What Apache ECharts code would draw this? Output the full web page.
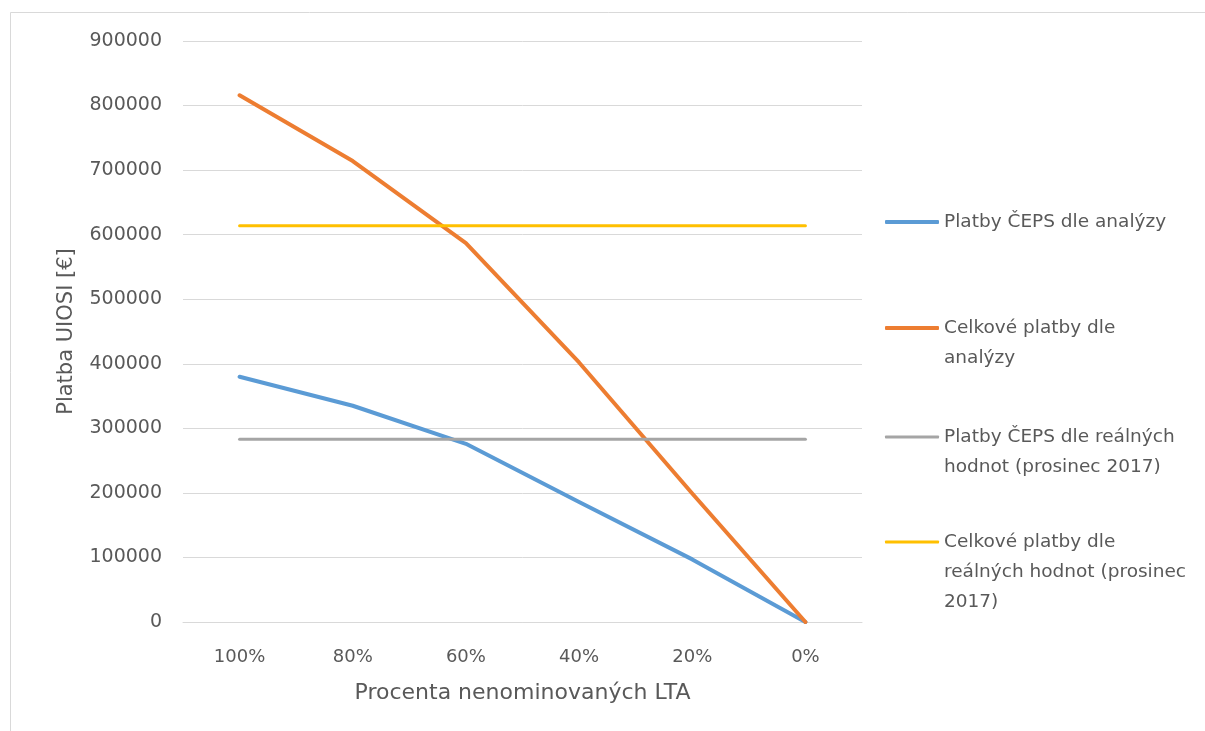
<!DOCTYPE html>
<html>
<head>
<meta charset="utf-8">
<script src="https://cdn.jsdelivr.net/npm/echarts@6/dist/echarts.min.js"></script>
<style>html,body{margin:0;padding:0;background:#fff}#c{width:1205px;height:731px}</style>
</head>
<body>
<div id="c"></div>
<script>
const categories = ['100%', '80%', '60%', '40%', '20%', '0%'];
const cepsAnalysis = [380000, 335000, 276000, 186000, 97000, 0];
const totalAnalysis = [816000, 714000, 587000, 402000, 199000, 0];
const cepsReal = [283000, 283000, 283000, 283000, 283000, 283000];
const totalReal = [614000, 614000, 614000, 614000, 614000, 614000];
const yTicks = [0, 100000, 200000, 300000, 400000, 500000, 600000, 700000, 800000, 900000];

const names = [
  'Platby ČEPS dle analýzy',
  'Celkové platby dle\nanalýzy',
  'Platby ČEPS dle reálných\nhodnot (prosinec 2017)',
  'Celkové platby dle\nreálných hodnot (prosinec\n2017)'
];
const colors = ['#5b9bd5', '#ed7d31', '#a5a5a5', '#ffc000'];
const widths = [4, 4, 3, 3];
const seriesData = [cepsAnalysis, totalAnalysis, cepsReal, totalReal];
const FONT = '"DejaVu Sans", sans-serif';
const TXT = '#595959';
const LH = 30;

const iconY = [222, 328, 437, 542];
const legends = names.map((n, i) => {
  const lines = n.split('\n').length;
  const total = 2 * lines - 1;
  return {
    orient: 'vertical',
    left: 885,
    top: iconY[i] - total * LH / 2,
    data: [{ name: n, icon: 'roundRect', itemStyle: { color: colors[i] } }],
    formatter: s => '\n'.repeat(lines - 1) + s,
    itemWidth: 54,
    itemHeight: widths[i],
    itemGap: 0,
    selectedMode: false,
    textStyle: { fontFamily: FONT, fontSize: 18.5, color: TXT, lineHeight: LH },
    padding: 0
  };
});

const chart = echarts.init(document.getElementById('c'), null, { renderer: 'canvas' });
chart.setOption({
  animation: false,
  backgroundColor: '#fff',
  graphic: [{
    type: 'rect', left: 8, top: 10, shape: { width: 1250, height: 760 },
    style: { fill: 'none', stroke: '#d9d9d9', lineWidth: 1 }, silent: true, z: -1
  }],
  grid: { left: 183, right: 343, top: 41, bottom: 109, containLabel: false },
  legend: legends,
  xAxis: {
    type: 'category', data: categories, boundaryGap: true,
    name: 'Procenta nenominovaných LTA', nameLocation: 'middle', nameGap: 60,
    nameTextStyle: { fontFamily: FONT, fontSize: 22, color: TXT },
    axisLine: { lineStyle: { color: '#d9d9d9', width: 1 } },
    axisTick: { show: false },
    axisLabel: { fontFamily: FONT, fontSize: 18, color: TXT, margin: 26 }
  },
  yAxis: {
    type: 'value', min: 0, max: 900000, interval: 100000,
    name: 'Platba UIOSI [€]', nameLocation: 'middle', nameGap: 106,
    nameTextStyle: { fontFamily: FONT, fontSize: 21, color: TXT },
    axisLine: { show: false }, axisTick: { show: false },
    splitLine: { lineStyle: { color: '#d9d9d9', width: 1 } },
    axisLabel: { fontFamily: FONT, fontSize: 19, color: TXT, margin: 21,
      formatter: v => yTicks.includes(v) ? String(v) : '' }
  },
  series: names.map((n, i) => ({
    name: n, type: 'line', data: seriesData[i], symbol: 'none',
    lineStyle: { color: colors[i], width: widths[i], cap: 'round', join: 'round' },
    itemStyle: { color: colors[i] }
  }))
});
</script>
</body>
</html>
